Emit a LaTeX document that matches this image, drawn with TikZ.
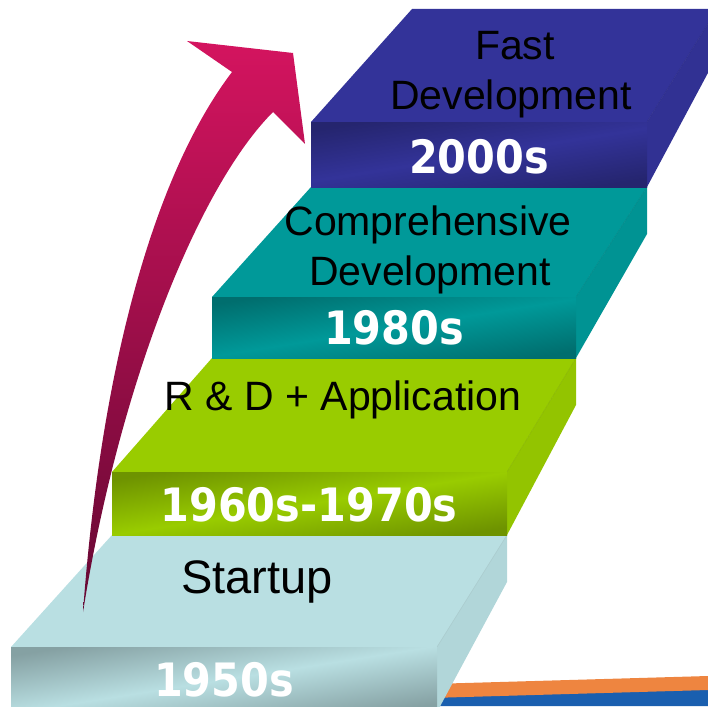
\documentclass[tikz,border=0pt]{standalone}
\usepackage{fontspec}
\setmainfont{Liberation Sans}
\newfontfamily\yearfont[FakeStretch=0.9]{DejaVu Sans}
\definecolor{stepice}{HTML}{B9DFE2}
\definecolor{steplime}{HTML}{99CC00}
\definecolor{stepteal}{HTML}{009999}
\definecolor{stepnavy}{HTML}{333399}
\definecolor{arrowpink}{HTML}{D4145F}
\definecolor{arrowwine}{HTML}{650833}
\definecolor{swooshorange}{HTML}{EE8540}
\definecolor{swooshblue}{HTML}{1A5FAF}
\tikzset{
  lbl/.style={anchor=base, inner sep=0pt, text=black, font=\fontsize{41}{49}\selectfont},
  yr/.style={anchor=base, inner sep=0pt, text=white, font=\yearfont\bfseries\fontsize{46}{52}\selectfont},
  crease/.style={line width=0.5pt},
}
\begin{document}
\begin{tikzpicture}[x=1pt, y=-1pt]
  \useasboundingbox (0,0) rectangle (708,706);
  \clip (0,0) rectangle (708,706);
  % floor swoosh behind the lowest stair
  \fill[swooshblue] (430,694) -- (708,686) -- (708,706) -- (430,706) -- cycle;
  \fill[swooshorange] (430,684) -- (708,676) -- (708,690) -- (430,698) -- cycle;
  % stairs, bottom to top: front left/right/top/bottom, then back left/right/top
  \foreach \l/\r/\t/\b/\nl/\nr/\nb/\c in {11/437/647/712/112/507/535/stepice,
      112/507/472/535/212/576/358/steplime,
      212/576/297/358/311/647/187/stepteal,
      311/647/122/187/412/717/9/stepnavy}{
    \fill[\c] (\l,\t) -- (\r,\t) -- (\nr,\nb) -- (\nl,\nb) -- cycle;
    \fill[\c!96!black] (\r,\t) -- (\nr,\nb) -- (\nr,\nb+47) -- (\r,\b) -- cycle;
    \draw[crease, \c!90!black] (\r,\t) -- (\nr,\nb);
    \shade[top color=\c!72!black, bottom color=\c!72!black, middle color=\c, shading angle=9]
      (\l,\t) rectangle (\r,\b);
  }
  % years on the risers
  \node[yr] (y1950) at (224,696) {1950s};
  \node[yr] (y1960) at (309,521) {1960s-1970s};
  \node[yr] (y1980) at (394,344) {1980s};
  \node[yr] (y2000) at (479,173) {2000s};
  % phase names on the treads
  \node[lbl, font=\fontsize{47}{56}\selectfont] (startup) at (257,593) {Startup};
  \node[lbl] (rnd) at (343,410) {R \& D + Application};
  \node[lbl] (comp) at (428,235) {Comprehensive};
  \node[lbl] (compdev) at (430,285) {Development};
  \node[lbl] (fast) at (515,60) {Fast};
  \node[lbl] (fastdev) at (511,110) {Development};
  % rising arrow
  \shade[top color=arrowpink, bottom color=arrowwine]
    (83,612) .. controls (100,380) and (150,180) .. (232,72)
    -- (187,41) -- (293,53) -- (305,144) -- (273,112)
    .. controls (200,185) and (120,380) .. (83,612) -- cycle;
\end{tikzpicture}
\end{document}
